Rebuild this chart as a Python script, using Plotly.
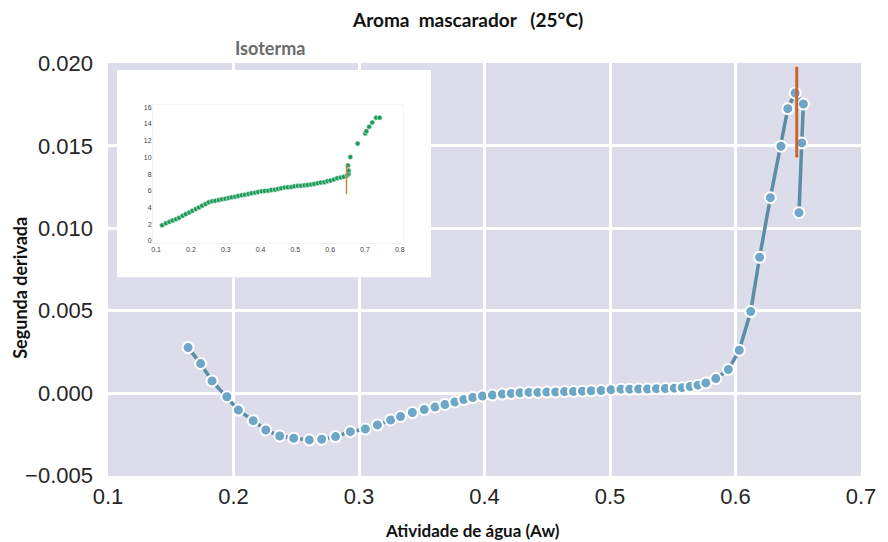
import plotly.graph_objects as go

# ---- main chart: second derivative of the isotherm ----
aw = [0.1638, 0.1738, 0.1829, 0.1947, 0.2039, 0.2157, 0.2257, 0.2368, 0.2480, 0.2604,
      0.2703, 0.2813, 0.2931, 0.3050, 0.3147, 0.3252, 0.3331, 0.3425, 0.3520, 0.3606,
      0.3685, 0.3764, 0.3835, 0.3906, 0.3984, 0.4063, 0.4142, 0.4213, 0.4283, 0.4354,
      0.4425, 0.4496, 0.4567, 0.4638, 0.4709, 0.4780, 0.4850, 0.4929, 0.5008, 0.5087,
      0.5157, 0.5228, 0.5299, 0.5370, 0.5441, 0.5512, 0.5575, 0.5638, 0.5701, 0.5764,
      0.5843, 0.5943, 0.6030, 0.6121, 0.6192, 0.6278, 0.6362, 0.6417, 0.6475, 0.6541,
      0.6528, 0.6506]
d2 = [0.00276, 0.00179, 0.00074, -0.00022, -0.00103, -0.00167, -0.00224, -0.00260, -0.00274, -0.00284,
      -0.00280, -0.00264, -0.00234, -0.00218, -0.00193, -0.00163, -0.00142, -0.00118, -0.00100, -0.00085,
      -0.00069, -0.00054, -0.00039, -0.00027, -0.00018, -0.00012, -0.00006, -0.00002, 0.00002, 0.00004,
      0.00004, 0.00006, 0.00007, 0.00009, 0.00010, 0.00012, 0.00014, 0.00016, 0.00021, 0.00024,
      0.00024, 0.00025, 0.00025, 0.00027, 0.00028, 0.00030, 0.00033, 0.00040, 0.00048, 0.00062,
      0.00088, 0.00143, 0.00260, 0.00495, 0.00824, 0.01186, 0.01498, 0.01726, 0.01821, 0.01754,
      0.01518, 0.01095]
peak_aw = [0.6488, 0.6488]
peak_d2 = [0.0143, 0.0198]

x_ticks = [0.1, 0.2, 0.3, 0.4, 0.5, 0.6, 0.7]
x_ticklabels = ["0.1", "0.2", "0.3", "0.4", "0.5", "0.6", "0.7"]
y_ticks = [-0.005, 0.0, 0.005, 0.010, 0.015, 0.020]
y_ticklabels = ["\u22120.005", "0.000", "0.005", "0.010", "0.015", "0.020"]

# ---- inset: isotherm ----
iso_aw = [0.117, 0.128, 0.138, 0.147, 0.157, 0.166, 0.176, 0.185, 0.195, 0.204,
          0.214, 0.223, 0.232, 0.242, 0.251, 0.261, 0.270, 0.280, 0.289, 0.299,
          0.308, 0.317, 0.327, 0.336, 0.346, 0.355, 0.365, 0.374, 0.384, 0.393,
          0.403, 0.412, 0.422, 0.431, 0.441, 0.450, 0.459, 0.469, 0.478, 0.488,
          0.497, 0.507, 0.516, 0.526, 0.535, 0.545, 0.554, 0.564, 0.573, 0.583,
          0.592, 0.601, 0.611, 0.620, 0.630, 0.639, 0.649, 0.653, 0.653, 0.651,
          0.658, 0.679, 0.701, 0.704, 0.712, 0.721, 0.732, 0.742]
iso_w = [1.89, 2.13, 2.29, 2.46, 2.61, 2.77, 3.01, 3.22, 3.42, 3.61,
         3.82, 4.02, 4.22, 4.42, 4.63, 4.75, 4.82, 4.90, 4.99, 5.06,
         5.14, 5.23, 5.30, 5.39, 5.47, 5.54, 5.63, 5.71, 5.78, 5.87,
         5.95, 5.99, 6.02, 6.11, 6.14, 6.23, 6.31, 6.39, 6.43, 6.47,
         6.55, 6.60, 6.62, 6.66, 6.71, 6.75, 6.83, 6.92, 6.99, 7.04,
         7.16, 7.23, 7.35, 7.52, 7.59, 7.67, 7.83, 8.04, 8.43, 9.04,
         10.05, 11.65, 12.86, 13.13, 13.66, 14.18, 14.75, 14.75]
iso_peak_aw = [0.647, 0.647]
iso_peak_w = [5.6, 9.1]
iso_x_ticks = [0.1, 0.2, 0.3, 0.4, 0.5, 0.6, 0.7, 0.8]
iso_x_ticklabels = ["0.1", "0.2", "0.3", "0.4", "0.5", "0.6", "0.7", "0.8"]
iso_y_ticks = [0, 2, 4, 6, 8, 10, 12, 14, 16]
iso_y_ticklabels = ["0", "2", "4", "6", "8", "10", "12", "14", "16"]
iso_x_range = [0.09, 0.81]
iso_y_range = [-0.3, 16.3]

TITLE = "Aroma  mascarador   (25°C)"
XTITLE = "Atividade de água (Aw)"
YTITLE = "Segunda derivada"
INSET_TITLE = "Isoterma"

fig = go.Figure()

fig.add_trace(go.Scatter(
    x=aw, y=d2, mode="lines+markers",
    line=dict(color="#5b8ea6", width=3.5),
    marker=dict(size=11, color="#6ea6c7", line=dict(color="#ffffff", width=2)),
    showlegend=False, hoverinfo="skip"))
fig.add_trace(go.Scatter(
    x=peak_aw, y=peak_d2, mode="lines",
    line=dict(color="#c8652c", width=3),
    showlegend=False, hoverinfo="skip"))

# frame subplot for the white inset background (drawn above main subplot)
fig.add_trace(go.Scatter(x=[None], y=[None], xaxis="x2", yaxis="y2",
                         showlegend=False, hoverinfo="skip"))

fig.add_trace(go.Scatter(
    x=iso_aw, y=iso_w, mode="markers", xaxis="x3", yaxis="y3",
    marker=dict(size=5, color="#1b9a58", line=dict(color="#e8f5ee", width=0.6)),
    showlegend=False, hoverinfo="skip"))
fig.add_trace(go.Scatter(
    x=iso_peak_aw, y=iso_peak_w, mode="lines", xaxis="x3", yaxis="y3",
    line=dict(color="#c8893f", width=1.5),
    showlegend=False, hoverinfo="skip"))

tickfont = dict(family="Liberation Sans, Arial, sans-serif", size=22, color="#262626")
small = dict(family="Liberation Sans, Arial", size=7, color="#444444")
title_font = "Lato, Open Sans, sans-serif"

fig.update_layout(
    width=888, height=542,
    margin=dict(l=108, r=18, t=63, b=66),
    paper_bgcolor="#ffffff",
    plot_bgcolor="#dcdceb",
    xaxis=dict(range=[0.1, 0.7], tickvals=x_ticks, ticktext=x_ticklabels,
               showgrid=True, gridcolor="#ffffff", gridwidth=2.5,
               zeroline=False, showline=False, ticks="", tickfont=tickfont,
               ticklabelstandoff=5),
    yaxis=dict(range=[-0.00503, 0.02003], tickvals=y_ticks, ticktext=y_ticklabels,
               showgrid=True, gridcolor="#ffffff", gridwidth=2.5,
               zeroline=False, showline=False, ticks="", tickfont=tickfont,
               ticklabelstandoff=14),
    xaxis2=dict(domain=[0.01181, 0.42913], range=[0, 1], visible=False, anchor="y2"),
    yaxis2=dict(domain=[0.48049, 0.98293], range=[0, 1], visible=False, anchor="x2"),
    xaxis3=dict(domain=[0.0593, 0.3921], range=iso_x_range, anchor="y3",
                tickvals=iso_x_ticks, ticktext=iso_x_ticklabels,
                showgrid=False, zeroline=False, showline=False, ticks="",
                tickfont=small),
    yaxis3=dict(domain=[0.5629, 0.899], range=iso_y_range, anchor="x3",
                tickvals=iso_y_ticks, ticktext=iso_y_ticklabels,
                showgrid=False, zeroline=False, showline=False, ticks="",
                tickfont=small),
    shapes=[
        dict(type="rect", xref="x2", yref="y2", x0=0, x1=1, y0=0, y1=1,
             fillcolor="#ffffff", line=dict(width=0), layer="below"),
        dict(type="rect", xref="x3", yref="y3",
             x0=iso_x_range[0], x1=iso_x_range[1], y0=iso_y_range[0], y1=iso_y_range[1],
             fillcolor="#ffffff", line=dict(width=0), layer="below"),
    ],
    annotations=[
        dict(text=TITLE, xref="paper", yref="paper", x=0.4777, y=1.1049,
             xanchor="center", yanchor="middle", showarrow=False,
             font=dict(family=title_font, size=19, color="#111111", weight="bold")),
        dict(text=XTITLE, xref="paper", yref="paper", x=0.4843, y=-0.1317,
             xanchor="center", yanchor="middle", showarrow=False,
             font=dict(family=title_font, size=17, color="#111111", weight="bold")),
        dict(text=YTITLE, xref="paper", yref="paper", x=-0.1168, y=0.456,
             xanchor="center", yanchor="middle", showarrow=False, textangle=-90,
             font=dict(family=title_font, size=18, color="#111111", weight="bold")),
        dict(text=INSET_TITLE, xref="paper", yref="paper", x=0.2152, y=1.0366,
             xanchor="center", yanchor="middle", showarrow=False,
             font=dict(family=title_font, size=18, color="#6b6b6b", weight="bold")),
    ],
)

fig.write_html("out.html")
